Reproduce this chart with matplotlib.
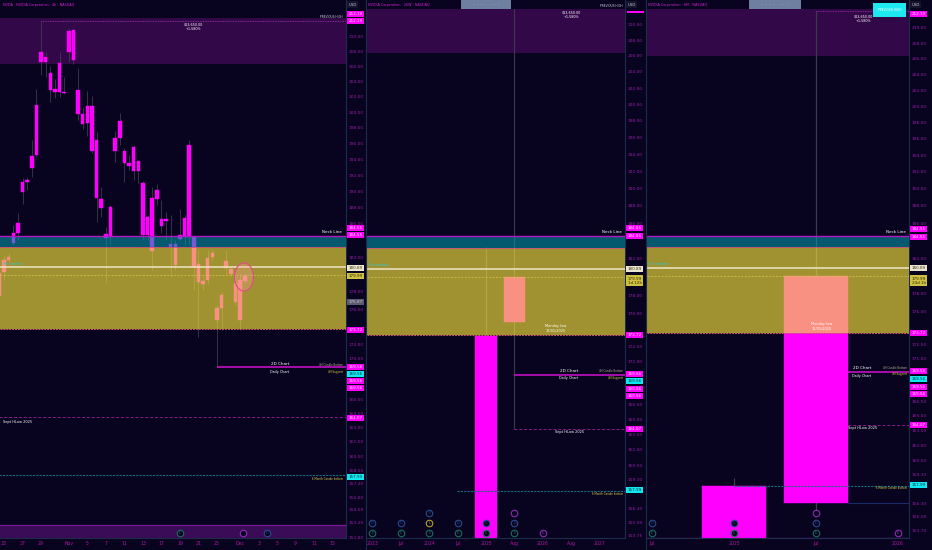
import numpy as np
import matplotlib
matplotlib.use('Agg')
import matplotlib.pyplot as plt
from matplotlib.patches import Rectangle, Ellipse
from matplotlib.ticker import FixedLocator, NullLocator, NullFormatter, FuncFormatter

W, H = 932, 550
BG = '#080420'
MAG = '#ff00ff'
WICK = '#3d3a4e'
OLIVE = '#f7e43b'
TEAL = '#01a3b4'
ZONE = '#320848'
TICKC = '#9a1aa8'
XTC = '#b0169e'

# ---------------- data ----------------
# Panel 1: NVDA 4h candles (bar 0 = 23 Oct, first session bar)
p1_bar = list(range(-1, 53))
p1_open = [177.56, 180.34, 181.75, 183.76, 184.95, 189.93, 191.16, 192.90, 194.53, 207.97,
           207.29, 205.15, 203.03, 202.64, 202.64, 207.97, 210.95, 202.90, 199.77, 198.61,
           200.81, 196.43, 189.07, 184.83, 184.47, 195.04, 196.69, 195.04, 193.53, 192.53,
           193.78, 191.04, 184.71, 189.19, 189.07, 186.64, 186.40, 183.64, 183.64, 184.23,
           184.47, 195.80, 184.47, 181.28, 179.30, 179.41, 182.10, 176.18, 176.18, 180.81,
           180.69, 179.06, 179.41, 179.30]
p1_high = [180.81, 182.34, 182.57, 185.91, 187.36, 191.66, 191.78, 196.43, 203.03, 212.19,
           207.97, 206.08, 204.35, 207.97, 204.62, 211.23, 211.10, 205.82, 200.68, 202.77,
           202.11, 197.45, 190.55, 185.67, 188.34, 197.58, 199.90, 195.42, 194.53, 195.80,
           193.90, 191.29, 187.12, 190.55, 190.92, 188.95, 187.48, 187.12, 184.11, 187.85,
           187.12, 196.43, 184.71, 182.93, 179.99, 182.93, 182.93, 176.53, 178.02, 182.93,
           180.93, 180.11, 179.99, 180.23]
p1_low = [177.10, 179.41, 181.51, 183.52, 184.11, 188.46, 190.18, 191.78, 194.30, 204.88,
          204.62, 201.33, 201.85, 201.98, 202.40, 206.62, 206.35, 198.99, 197.84, 196.94,
          194.78, 186.28, 186.88, 179.06, 183.52, 193.66, 195.80, 191.16, 192.65, 191.41,
          191.04, 184.11, 184.11, 180.58, 188.34, 184.95, 184.11, 179.76, 180.58, 184.11,
          183.52, 183.52, 178.25, 172.90, 178.25, 178.84, 181.75, 169.56, 173.69, 179.99,
          179.88, 176.53, 173.69, 179.06]
p1_close = [180.23, 181.75, 182.10, 184.95, 186.16, 191.16, 191.41, 194.41, 200.94, 206.62,
            206.62, 202.90, 202.64, 206.49, 202.51, 210.82, 206.89, 199.77, 198.48, 200.81,
            195.04, 189.19, 187.97, 184.35, 188.09, 196.69, 198.86, 193.53, 193.15, 195.54,
            192.53, 184.71, 186.88, 182.81, 190.18, 185.79, 186.64, 183.28, 181.16, 184.71,
            186.76, 184.47, 180.93, 179.18, 178.95, 181.98, 182.57, 174.82, 177.67, 181.63,
            180.11, 176.87, 174.71, 179.88]
p1_xticks = [0, 4, 8, 14, 18, 22, 26, 30, 34, 38, 42, 46, 51, 55, 59, 63, 67, 71]
p1_xlabels = ['23', '27', '29', 'Nov', '5', '7', '11', '13', '17', '19', '21', '25',
              'Dec', '3', '5', '9', '11', '15']
p1_yticks = [210, 208, 206, 204, 202, 200, 198, 196, 194, 192, 190, 188, 186, 182,
             178, 176, 172, 170.5, 166, 164.5, 163, 161.5, 160, 158.5,
             157.2, 155.8, 154.5, 153.2, 151.8]

# Panel 2: 26-week candles (0 = 2025 H1 bar, 1 = Aug 2025 bar)
p2_idx = [0, 1]
p2_open = [131.00, 175.10]
p2_high = [183.30, 212.19]
p2_low = [86.62, 164.07]
p2_close = [173.65, 179.99]
p2_xticks = [-4, -3, -2, -1, 0, 1, 2, 3, 4]
p2_xlabels = ['2023', 'Jul', '2024', 'Jul', '2025', 'Aug', '2026', 'Aug', '2027']
p2_yticks = [210, 208, 206, 204, 202, 200, 198, 196, 194, 192, 190, 188, 186, 182,
             178, 176, 172.5, 171, 166.5, 165, 163.5, 162, 160.5, 159.1,
             156.3, 155, 153.75]

# Panel 3: 6-month candles (0 = 2025 H1, 1 = 2025 H2)
p3_idx = [0, 1]
p3_open = [136.00, 156.29]
p3_high = [158.71, 212.19]
p3_low = [86.62, 155.30]
p3_close = [157.99, 179.99]
p3_xticks = [-1, 0, 1, 2]
p3_xlabels = ['Jul', '2025', 'Jul', '2026']
p3_yticks = [210, 208, 206, 204, 202, 200, 198, 196, 194, 192, 190, 188, 186, 182,
             178, 176, 172.5, 171, 166.5, 165, 163.5, 162, 160.5, 159.1,
             156.3, 155, 153.7]

# key levels
prev_high = 212.19
zone_top = (206.35, 212.60)
neck_hi, neck_lo = 184.55, 183.28
band_lo = 173.72
premarket = 180.89
last_price = 179.99
support_4h = 169.56
sept_low = 164.07
six_month_bottom = 157.99
h2_open = 156.29
zone_bot_top = 152.95

# event markers (x, row, letter, colour)
p1_events = [(38, 0, 'E', '#1d6b5c'), (51.6, 0, '', '#8a2ab0'), (56.8, 0, 'D', '#2a4a8a')]
p2_events = [(-4, 1, 'D', '#2a4a8a'), (-4, 0, 'E', '#1d6b5c'), (-3, 1, 'D', '#2a4a8a'),
             (-3, 0, 'E', '#1d6b5c'), (-2, 2, 'E', '#2a4a8a'), (-2, 1, 'L', '#b0a030'),
             (-2, 0, 'E', '#1d6b5c'), (-1, 1, 'D', '#2a4a8a'), (-1, 0, 'E', '#1d6b5c'),
             (0, 1, 'D', '#2a4a8a'), (0, 0, 'E', '#1d6b5c'), (1, 2, '', '#8a2ab0'),
             (1, 1, 'D', '#2a4a8a'), (1, 0, 'E', '#1d6b5c'), (2, 0, 'E', '#8a2ab0')]
p3_events = [(-1, 1, 'D', '#2a4a8a'), (-1, 0, 'E', '#1d6b5c'), (0, 1, 'D', '#2a4a8a'),
             (0, 0, 'E', '#1d6b5c'), (1, 2, '', '#8a2ab0'), (1, 1, 'D', '#2a4a8a'),
             (1, 0, 'E', '#1d6b5c'), (2, 0, 'E', '#8a2ab0')]

# ---------------- figure ----------------
fig = plt.figure(figsize=(W / 100, H / 100), dpi=100, facecolor=BG)
PB = 538  # plot bottom in px


def make_ax(x0, x1, xlim, ylim, yticks, xticks, xlabels):
    ax = fig.add_axes([x0 / W, (H - PB) / H, (x1 - x0) / W, PB / H], facecolor=BG)
    ax.set_yscale('log')
    ax.set_xlim(*xlim)
    ax.set_ylim(*ylim)
    ax.yaxis.tick_right()
    ax.yaxis.set_major_locator(FixedLocator(yticks))
    ax.yaxis.set_major_formatter(FuncFormatter(lambda v, p: f'{v:.2f}'))
    ax.yaxis.set_minor_locator(NullLocator())
    ax.yaxis.set_minor_formatter(NullFormatter())
    ax.tick_params(axis='y', length=0, pad=1.6, labelsize=3.2, labelcolor=TICKC)
    ax.set_xticks(xticks, xlabels)
    ax.tick_params(axis='x', length=0, pad=2.4, labelsize=3.3, labelcolor=XTC)
    for s in ('top', 'left'):
        ax.spines[s].set_visible(False)
    for s in ('right', 'bottom'):
        ax.spines[s].set_color('#1f2b4d')
        ax.spines[s].set_linewidth(0.8)
    return ax


def candles(ax, x, o, h, l, c, width, wlw):
    x = np.asarray(x, float)
    o, h, l, c = (np.asarray(v, float) for v in (o, h, l, c))
    lo, hi = np.minimum(o, c), np.maximum(o, c)
    ax.vlines(x, l, h, color=WICK, lw=wlw, zorder=1)
    ax.bar(x, hi - lo, width=width, bottom=lo, color=MAG, edgecolor=MAG, lw=0.3, zorder=2)


def levels(ax, xr, ph_start, sup_start, sept_start, six_start):
    ax.axhspan(*zone_top, color=ZONE, lw=0, zorder=0.5)
    ax.axhspan(100, zone_bot_top, color='#3a0b56', lw=0, zorder=0.5)
    ax.axhline(zone_bot_top, color='#7a1a9a', lw=0.9, zorder=0.6)
    ax.axhspan(neck_lo, neck_hi, color=TEAL, alpha=0.54, lw=0, zorder=3)
    ax.axhspan(band_lo, neck_lo, color=OLIVE, alpha=0.64, lw=0, zorder=3)
    ax.axhline(neck_hi, color='#b418c0', lw=1.0, zorder=4)
    ax.axhline(neck_lo, color='#c8507a', lw=0.6, zorder=4)
    ax.axhline(band_lo, color='#d05a70', lw=0.7, ls=(0, (2, 1)), zorder=4)
    ax.axhline(premarket, color='#efe6c8', lw=1.1, zorder=4)
    ax.axhline(last_price, color='#d6c64a', lw=0.5, ls=(0, (3, 2)), zorder=4)
    ax.hlines(prev_high, ph_start, xr, color='#a030b0', lw=0.6, ls=(0, (1, 1)), zorder=4)
    ax.hlines(support_4h, sup_start, xr, color='#c010c0', lw=1.2, zorder=4)
    ax.hlines(sept_low, sept_start, xr, color='#8a1a8a', lw=0.7, ls=(0, (3, 2)), zorder=4)
    ax.hlines(six_month_bottom, six_start, xr, color='#1a6a7a', lw=0.8, ls=(0, (2, 1)), zorder=4)


def events(ax, evs):
    tr = ax.get_xaxis_transform()
    rows = {0: (PB - 533) / PB, 1: (PB - 523) / PB, 2: (PB - 513) / PB}
    for x, r, letter, col in evs:
        ax.scatter([x], [rows[r]], s=22, marker='o', facecolor=BG, edgecolor=col,
                   lw=0.8, transform=tr, zorder=6, clip_on=False)
        if letter:
            ax.text(x, rows[r], letter, transform=tr, fontsize=2.3, color=col,
                    ha='center', va='center', zorder=7)


# Panel 1
ax1 = make_ax(0, 346, (-0.864, 73.87), (151.71, 215.10), p1_yticks, p1_xticks, p1_xlabels)
levels(ax1, 73.87, 8, 46, -1, -1)
candles(ax1, p1_bar, p1_open, p1_high, p1_low, p1_close, 0.76, 0.6)
events(ax1, p1_events)

# Panel 2
ax2 = make_ax(367, 625, (-4.19, 4.89), (153.51, 213.16), p2_yticks, p2_xticks, p2_xlabels)
levels(ax2, 4.89, 1, 1, 1, -1.02)
candles(ax2, p2_idx, p2_open, p2_high, p2_low, p2_close, 0.76, 0.8)
events(ax2, p2_events)

# Panel 3
ax3 = make_ax(647, 909, (-1.061, 2.134), (152.95, 213.63), p3_yticks, p3_xticks, p3_xlabels)
levels(ax3, 2.134, 1, 1.395, 1.395, 0)
ax3.hlines(h2_open, 1.395, 2.134, color='#1a2a6a', lw=0.8, zorder=4)
candles(ax3, p3_idx, p3_open, p3_high, p3_low, p3_close, 0.79, 0.9)
events(ax3, p3_events)

# separators / header strips
for xs in (366, 646):
    fig.add_artist(plt.Line2D([xs / W, xs / W], [0, 1], color='#1f2b4d', lw=0.8))
for x0, x1 in ((367, 625), (647, 909)):
    fig.add_artist(Rectangle((x0 / W, 1 - 9 / H), (x1 - x0) / W, 9 / H,
                             transform=fig.transFigure, fc=BG, ec='none', zorder=2))
for x0, x1 in ((461, 511), (749, 801)):
    fig.add_artist(Rectangle((x0 / W, 1 - 9 / H), (x1 - x0) / W, 9 / H,
                             transform=fig.transFigure, fc='#6f7f9f', ec='none', zorder=3))
    fig.text((x0 + x1) / 2 / W, 1 - 4.5 / H, '·  ·  ·  ·    ·  ·  ·', fontsize=3,
             color='#e8eef8', ha='center', va='center', zorder=4)
# cyan box top right
fig.add_artist(Rectangle((873 / W, 1 - 17 / H), 33 / W, 14 / H, transform=fig.transFigure,
                         fc='#1ee8f0', ec='none', zorder=3))
fig.text(889.5 / W, 1 - 10 / H, 'PREVIOUS HIGH', fontsize=2.2, color='#ffffff',
         ha='center', va='center', zorder=4)

# highlight ellipse
fig.add_artist(Ellipse((244 / W, 1 - 277 / H), 19 / W, 28 / H, transform=fig.transFigure,
                       fc=(1.0, 0.62, 0.6, 0.30), ec='#e04a8a', lw=0.8, zorder=2))


def ftext(x, y, s, size=2.6, color='#ffffff', ha='left', va='center', **kw):
    fig.text(x / W, 1 - y / H, s, fontsize=size, color=color, ha=ha, va=va, zorder=5, **kw)


# titles
ftext(3, 5, 'NVDA · NVIDIA Corporation · 4h · NASDAQ', 2.4, '#d020d0')
ftext(368, 5, 'NVIDIA Corporation · 26W · NASDAQ', 2.4, '#d020d0')
ftext(648, 5, 'NVIDIA Corporation · 6M · NASDAQ', 2.4, '#d020d0')

# annotation texts
for x, y in ((193, 25), (571, 13), (863, 17)):
    ftext(x, y, '$13,650.00', 2.4, ha='center')
    ftext(x, y + 4.5, '+1,580%', 2.4, ha='center')
ftext(343, 17, 'PREVIOUS HIGH', 2.1, '#d8d0e0', ha='right')
ftext(623, 6, 'PREVIOUS HIGH', 2.1, '#d8d0e0', ha='right')
for xr in (342, 622, 906):
    ftext(xr, 232, 'Neck Line', 3.0, ha='right')
for xl, y in ((3, 264), (369, 265), (649, 264)):
    ftext(xl, y, 'Pre market', 2.5, '#20c8e0')
for xc, y in ((556, 326), (822, 324)):
    ftext(xc, y, 'Monday low', 2.5, ha='center')
    ftext(xc, y + 5, '12/01/2025', 2.5, ha='center')
for xl, y in ((271, 364), (560, 371), (853, 368)):
    ftext(xl, y, '2D Chart', 3.0)
    ftext(xl - 1, y + 7.5, 'Daily Chart', 2.4)
for xr, y in ((343, 365), (623, 371), (907, 368)):
    ftext(xr, y, '4H Candle Bottom', 1.9, '#b8a888', ha='right')
    ftext(xr, y + 6.5, '4H Support', 1.9, '#e0d040', ha='right')
ftext(3, 422, 'Sept HLow 2025', 2.5)
ftext(570, 432, 'Sept HLow 2025', 2.5, ha='center')
ftext(848, 428, 'Sept HLow 2025', 2.5)
ftext(343, 479, '6 Month Candle bottom', 1.9, '#e0d040', ha='right')
ftext(623, 494, '6 Month Candle bottom', 1.9, '#e0d040', ha='right')
ftext(907, 488, '6 Month Candle bottom', 1.9, '#e0d040', ha='right')

# price-scale labels
CY = '#10e8f0'
def plabel(x, y, s, fc=MAG, tc='#ffe0ff', size=3.0):
    fig.text(x / W, 1 - y / H, s, fontsize=size, color=tc, ha='left', va='center',
             linespacing=1.0, zorder=20,
             bbox=dict(boxstyle='square,pad=0.28', fc=fc, ec='none'))


for xa in (348.5, 627.5, 911.5):
    plabel(xa, 4.5, 'USD', '#15142c', '#c8c8d8', 2.8)

p1_lab = [(14, '212.19', MAG, '#ffe0ff'), (21, '212.19', MAG, '#ffe0ff'),
          (228, '184.55', MAG, '#ffe0ff'), (235, '184.55', MAG, '#ffe0ff'),
          (268, '180.89', '#ece6d0', '#403820'), (276, '179.99', '#cfc040', '#2a2a10'),
          (302, '176.87', '#5c5a6e', '#c8c8d0'), (330, '173.72', MAG, '#ffe0ff'),
          (367, '169.56', MAG, '#ffe0ff'), (374, '169.56', CY, '#103040'),
          (381, '169.56', MAG, '#ffe0ff'), (388, '169.56', MAG, '#ffe0ff'),
          (418, '164.07', MAG, '#ffe0ff'), (477, '157.99', CY, '#103040')]
p2_lab = [(228, '184.55', MAG, '#ffe0ff'), (236, '184.55', MAG, '#ffe0ff'),
          (269, '180.89', '#ece6d0', '#403820'), (280.5, '179.99\n1d 12h', '#cfc040', '#2a2a10'),
          (335, '173.72', MAG, '#ffe0ff'), (374, '169.56', MAG, '#ffe0ff'),
          (381, '169.56', CY, '#103040'), (389, '169.56', MAG, '#ffe0ff'),
          (396, '169.56', MAG, '#ffe0ff'), (429, '164.07', MAG, '#ffe0ff'),
          (490, '157.99', CY, '#103040')]
p3_lab = [(14, '212.19', MAG, '#ffe0ff'), (229, '184.55', MAG, '#ffe0ff'),
          (237, '184.55', MAG, '#ffe0ff'), (268, '180.89', '#ece6d0', '#403820'),
          (280.5, '179.99\n24d 1h', '#cfc040', '#2a2a10'), (333, '173.72', MAG, '#ffe0ff'),
          (371, '169.56', MAG, '#ffe0ff'), (379, '169.56', CY, '#103040'),
          (387, '169.56', MAG, '#ffe0ff'), (394, '169.56', MAG, '#ffe0ff'),
          (425, '164.07', MAG, '#ffe0ff'), (485, '157.99', CY, '#103040')]
for xa, labs in ((348.5, p1_lab), (627.5, p2_lab), (911.5, p3_lab)):
    for y, s, fc, tc in labs:
        plabel(xa, y, s, fc, tc)
fig.add_artist(Rectangle((627 / W, 1 - 13 / H), 17 / W, 1.6 / H, transform=fig.transFigure,
                         fc=MAG, ec='none', zorder=21))

fig.savefig('out.png', dpi=100, facecolor=BG)
